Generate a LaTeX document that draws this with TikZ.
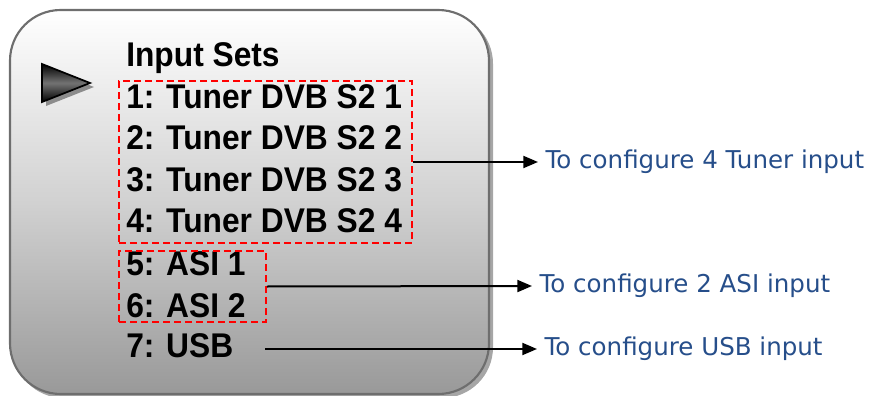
\documentclass[tikz,border=0pt]{standalone}
\usepackage{fontspec}
\setmainfont{Liberation Sans}
\newfontfamily\lblfont{DejaVu Sans}
\usetikzlibrary{arrows.meta,fit,shadows}
\definecolor{lblblue}{RGB}{38,78,138}
\definecolor{frame}{RGB}{110,110,110}
\tikzset{
  item/.style={anchor=base west, inner sep=0pt, yscale=1.08, font=\bfseries\fontsize{23.8pt}{26pt}\selectfont},
  dashbox/.style={draw=red, line width=1.4pt, dash pattern=on 5.25pt off 3pt, inner sep=0pt},
  lbl/.style={anchor=west, inner xsep=5.5pt, inner ysep=2pt, text=lblblue, font=\lblfont\fontsize{18.4pt}{20pt}\selectfont},
  arr/.style={line width=1.5pt, -{Triangle[length=11pt,width=9pt]}},
}
\begin{document}
\begin{tikzpicture}[x=0.75pt,y=-0.75pt]
\useasboundingbox (0,0) rectangle (879,396);
% shadow of panel
\fill[black!35, rounded corners=38pt] (13,13) rectangle (493,398);
% panel
\draw[frame, line width=1.6pt, rounded corners=38pt, top color=white, bottom color=black!40, middle color=black!18] (10,10) rectangle (489,394);
% pointer triangle
\fill[black!45] (46,68) -- (94,87) -- (46,106) -- cycle;
\draw[black, line width=1.3pt, top color=black, bottom color=black, middle color=black!55] (42,64) -- (90,83) -- (42,102) -- cycle;
% texts
\node[item] (title) at (126,66) {Input Sets};
\node[item] (t1) at (126,108) {1: Tuner DVB S2 1};
\node[item] (t2) at (126,149) {2: Tuner DVB S2 2};
\node[item] (t3) at (126,191) {3: Tuner DVB S2 3};
\node[item] (t4) at (126,232) {4: Tuner DVB S2 4};
\node[item] (a1) at (126,275) {5: ASI 1};
\node[item] (a2) at (126,317) {6: ASI 2};
\node[item] (usb) at (126,357) {7: USB};
% dashed groups
\node[dashbox, fit={(119,81) (412,243)}] (g1) {};
\node[dashbox, fit={(119,251) (266,322)}] (g2) {};
\coordinate (u0) at (265,349);
% labels
\node[lbl] (l1) at (538,162) {To configure 4 Tuner input};
\node[lbl] (l2) at (532,286) {To configure 2 ASI input};
\node[lbl] (l3) at (537,349) {To configure USB input};
% arrows
\draw[arr] (g1.east) -- (l1.west);
\draw[arr] (g2.east) -- (l2.west);
\draw[arr] (u0) -- (l3.west);
\end{tikzpicture}
\end{document}
